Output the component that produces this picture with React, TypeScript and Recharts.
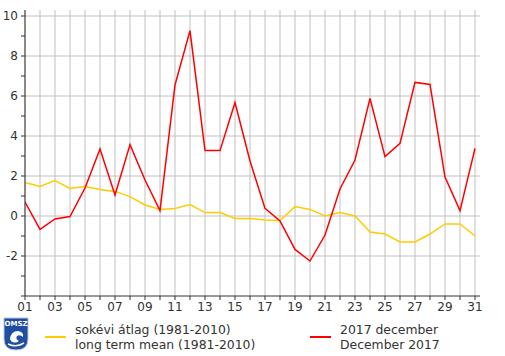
import { LineChart, Line, XAxis, YAxis, CartesianGrid } from 'recharts';

const days = Array.from({ length: 31 }, (_, i) => i + 1);

// 2017 december daily mean temperature
const dec2017 = [
  0.7, -0.67, -0.15, -0.03, 1.4, 3.35, 1.05, 3.57, 1.8, 0.27,
  6.55, 9.27, 3.27, 3.27, 5.67, 2.75, 0.38, -0.25, -1.67, -2.25,
  -0.95, 1.35, 2.8, 5.88, 2.97, 3.63, 6.68, 6.58, 1.95, 0.27, 3.38,
];

// long term mean (1981-2010)
const longTermMean = [
  1.68, 1.48, 1.77, 1.38, 1.47, 1.32, 1.23, 0.97, 0.55, 0.33,
  0.38, 0.57, 0.17, 0.17, -0.12, -0.12, -0.2, -0.23, 0.47, 0.33,
  0.0, 0.18, 0.0, -0.8, -0.9, -1.3, -1.3, -0.9, -0.4, -0.4, -1.0,
];

const yTicks = [-4, -3, -2, -1, 0, 1, 2, 3, 4, 5, 6, 7, 8, 9, 10];
const yGrid = [-2, 0, 2, 4, 6, 8, 10];

const data = days.map((d, i) => ({ day: d, actual: dec2017[i], mean: longTermMean[i] }));

const FONT = '"DejaVu Sans", Verdana, sans-serif';
const TXT = '#333';

function Logo() {
  return (
    <svg width={26} height={34} style={{ position: 'absolute', left: 3, top: 317 }}>
      <path d="M1 1 H25 V22 Q25 33 13 33 Q1 33 1 22 Z" fill="#1f4ea3" stroke="#b8c6e6" strokeWidth={1} />
      <text x={13} y={9} fill="#fff" fontSize={7} fontWeight="bold" textAnchor="middle" fontFamily={FONT}>
        OMSZ
      </text>
      <path d="M7 22 Q8 14 15 14 Q21 15 20 20 Q17 17 14 19 Q12 22 16 24 Q12 27 8 24" fill="#fff" />
      <path d="M5 27 Q13 31 21 26" stroke="#fff" strokeWidth={1.5} fill="none" />
    </svg>
  );
}

export default function App() {
  return (
    <div style={{ position: 'absolute', left: 0, top: 0, width: 505, height: 356, background: '#fff', fontFamily: FONT }}>
      <LineChart width={505} height={356} data={data} margin={{ top: 10, right: 25, left: 0, bottom: 40 }}>
        <CartesianGrid stroke="#c0c0c0" horizontalValues={yGrid} verticalValues={days} />
        <XAxis
          dataKey="day"
          type="number"
          domain={[1, 31.333]}
          ticks={days}
          interval={0}
          allowDataOverflow
          tickFormatter={(v: number) => (v % 2 === 1 ? String(v).padStart(2, '0') : '')}
          tick={{ fill: TXT, fontSize: 12, fontFamily: FONT }}
          tickSize={4}
          tickMargin={2}
          height={20}
          axisLine={{ stroke: TXT }}
          tickLine={{ stroke: TXT }}
        />
        <YAxis
          type="number"
          domain={[-4, 10.3]}
          ticks={yTicks}
          interval={0}
          allowDataOverflow
          tickFormatter={(v: number) => (v % 2 === 0 && v !== -4 ? String(v) : '')}
          tick={{ fill: TXT, fontSize: 12, fontFamily: FONT }}
          tickSize={4}
          tickMargin={3}
          width={25}
          axisLine={{ stroke: TXT }}
          tickLine={{ stroke: TXT }}
        />
        <Line
          type="linear"
          dataKey="mean"
          stroke="#ffcc00"
          strokeWidth={1.5}
          dot={false}
          isAnimationActive={false}
        />
        <Line
          type="linear"
          dataKey="actual"
          stroke="#ff0000"
          strokeWidth={1.5}
          dot={false}
          isAnimationActive={false}
        />
      </LineChart>
      <Logo />
      <div style={{ position: 'absolute', left: 45, top: 336, width: 21, height: 2, background: '#ffcc00' }} />
      <div style={{ position: 'absolute', left: 75, top: 322, fontSize: 12.4, lineHeight: '15px', color: TXT }}>
        sokévi átlag (1981-2010)
        <br />
        long term mean (1981-2010)
      </div>
      <div style={{ position: 'absolute', left: 310, top: 336, width: 21, height: 2, background: '#ff0000' }} />
      <div style={{ position: 'absolute', left: 340, top: 322, fontSize: 12.4, lineHeight: '15px', color: TXT }}>
        2017 december
        <br />
        December 2017
      </div>
    </div>
  );
}
